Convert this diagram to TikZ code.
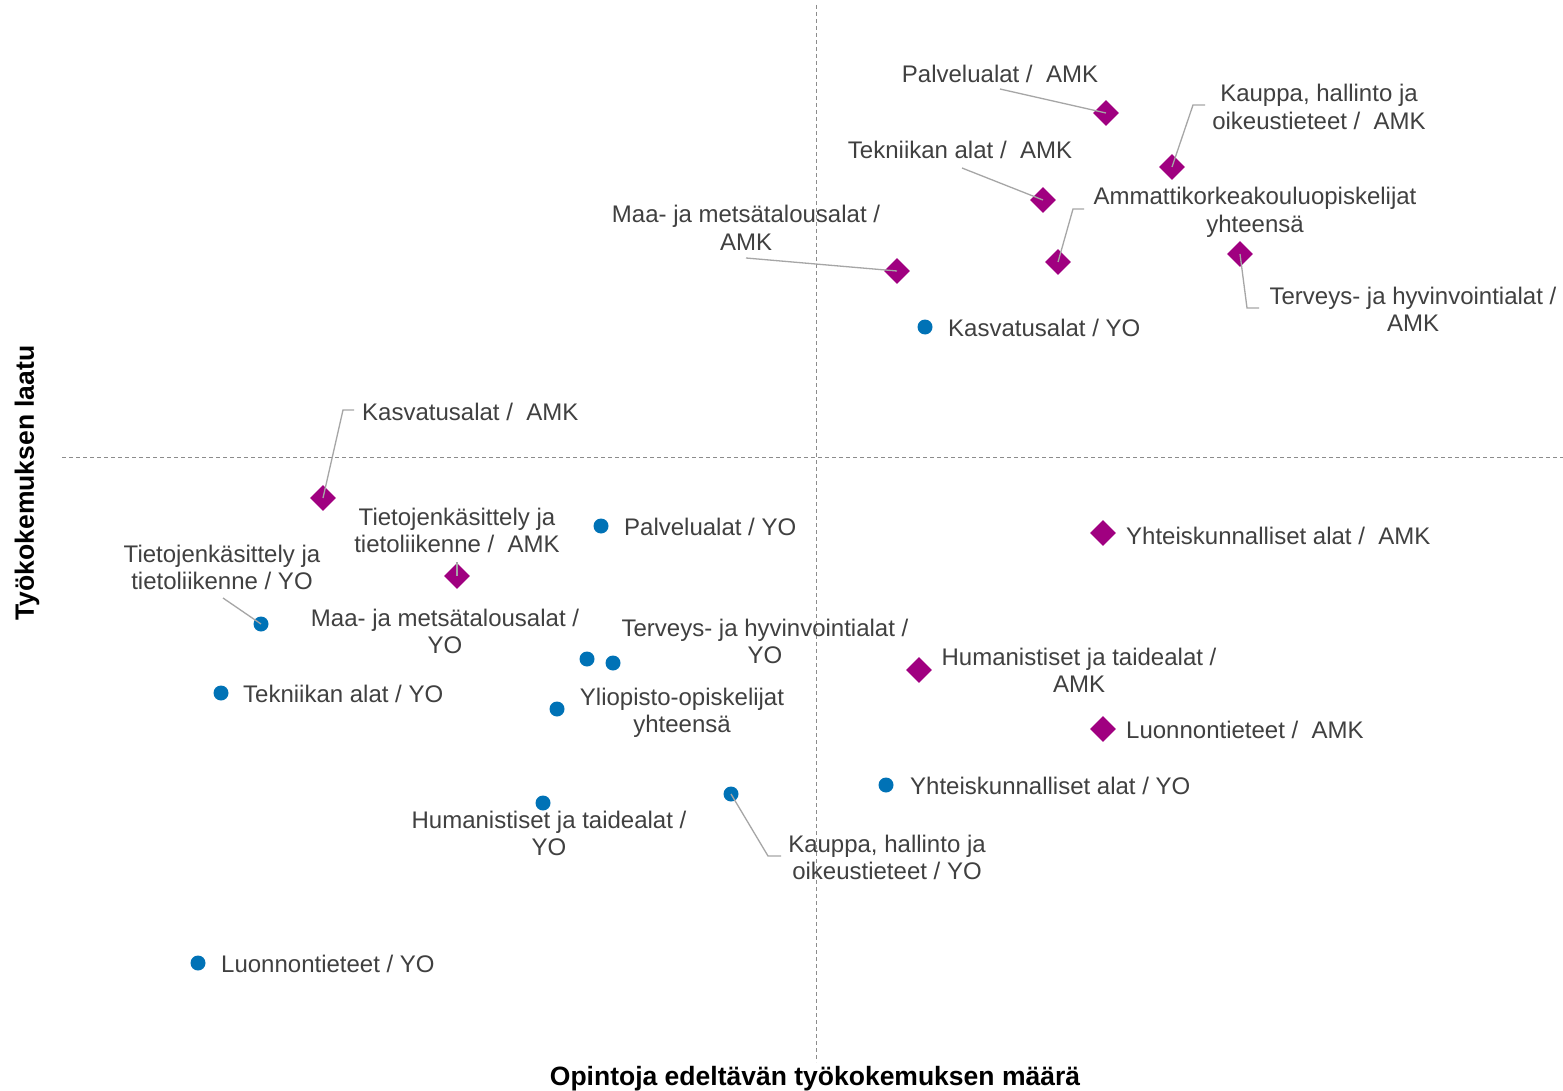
\documentclass[tikz,border=0pt]{standalone}
\usepackage{fontspec}
\setmainfont{Liberation Sans}
\usetikzlibrary{shapes.geometric}
\definecolor{amk}{RGB}{160,0,128}
\definecolor{yo}{RGB}{0,114,182}
\definecolor{txt}{RGB}{64,64,64}
\definecolor{leadc}{RGB}{166,166,166}
\definecolor{gridc}{RGB}{140,140,140}
\begin{document}
\begin{tikzpicture}[x=1pt,y=-1pt,
 amkm/.style={diamond,fill=amk,inner sep=0pt,minimum size=26pt},
 yom/.style={circle,fill=yo,inner sep=0pt,minimum size=15pt},
 lbl/.style={text=txt,inner sep=0pt,font=\fontsize{24}{27.5}\selectfont,align=center},
 lblw/.style={lbl,anchor=base west},
 lblc/.style={lbl,anchor=base},
 leader/.style={draw=leadc,line width=1.3pt},
 gridline/.style={draw=gridc,line width=1pt,dash pattern=on 4pt off 3pt},
 axistitle/.style={text=black,font=\fontsize{26.5}{30}\selectfont\bfseries,inner sep=0pt}]
\useasboundingbox[fill=white] (0,0) rectangle (1563,1091);

% quadrant lines
\coordinate (vtop) at (816,5);
\coordinate (vbot) at (816,1062);
\coordinate (hl) at (62,457);
\coordinate (hr) at (1563,457);
\draw[gridline] (vtop) -- (vbot);
\draw[gridline] (hl) -- (hr);

% AMK markers
\node[amkm] (pa) at (1106,113) {};
\node[amkm] (ka) at (1172,167) {};
\node[amkm] (te) at (1043,200) {};
\node[amkm] (am) at (1058,262) {};
\node[amkm] (ma) at (897,271) {};
\node[amkm] (tv) at (1240,254) {};
\node[amkm] (kv) at (323,498) {};
\node[amkm] (ti) at (457,576) {};
\node[amkm] (yh) at (1103,533) {};
\node[amkm] (hu) at (919,670) {};
\node[amkm] (lu) at (1103,729) {};

% YO markers
\node[yom] (kvy) at (925,327) {};
\node[yom] (pay) at (601,526) {};
\node[yom] (tiy) at (261,624) {};
\node[yom] (may) at (587,659) {};
\node[yom] (tvy) at (613,663) {};
\node[yom] (tey) at (221,693) {};
\node[yom] (yly) at (557,709) {};
\node[yom] (huy) at (543,803) {};
\node[yom] (kay) at (731,794) {};
\node[yom] (yhy) at (886,785) {};
\node[yom] (luy) at (198,963) {};

% labels (single line: baseline; two lines: baseline of the last line)
\node[lblc] (lpa) at (1000,83) {Palvelualat /\ \ AMK};
\node[lblc] (lka) at (1319,129.5) {Kauppa, hallinto ja\\oikeustieteet /\ \ AMK};
\node[lblc] (lte) at (960,159) {Tekniikan alat /\ \ AMK};
\node[lblc] (lma) at (746,250.5) {Maa- ja metsätalousalat /\\AMK};
\node[lblc] (lam) at (1255,232.5) {Ammattikorkeakouluopiskelijat\\yhteensä};
\node[lblc] (ltv) at (1413,331.5) {Terveys- ja hyvinvointialat /\\AMK};
\node[lblw] (lkvy) at (948,336) {Kasvatusalat / YO};
\node[lblw] (lkv) at (362,420) {Kasvatusalat /\ \ AMK};
\node[lblc] (lti) at (457,552.5) {Tietojenkäsittely ja\\tietoliikenne /\ \ AMK};
\node[lblw] (lpay) at (624,535) {Palvelualat / YO};
\node[lblc] (ltiy) at (222,589.5) {Tietojenkäsittely ja\\tietoliikenne / YO};
\node[lblw] (lyh) at (1126,544) {Yhteiskunnalliset alat /\ \ AMK};
\node[lblc] (lmay) at (445,653.5) {Maa- ja metsätalousalat /\\YO};
\node[lblc] (ltvy) at (765,663.5) {Terveys- ja hyvinvointialat /\\YO};
\node[lblc] (lhu) at (1079,692.5) {Humanistiset ja taidealat /\\AMK};
\node[lblw] (ltey) at (243,702) {Tekniikan alat / YO};
\node[lblc] (lyly) at (682,732.5) {Yliopisto-opiskelijat\\yhteensä};
\node[lblw] (llu) at (1126,738) {Luonnontieteet /\ \ AMK};
\node[lblw] (lyhy) at (910,794) {Yhteiskunnalliset alat / YO};
\node[lblc] (lhuy) at (549,855.5) {Humanistiset ja taidealat /\\YO};
\node[lblc] (lkay) at (887,879.5) {Kauppa, hallinto ja\\oikeustieteet / YO};
\node[lblw] (lluy) at (221,972) {Luonnontieteet / YO};

% leader lines
\coordinate (c1) at (1000,89);
\draw[leader] (c1) -- (pa.center);
\coordinate (c2a) at (1205,105); \coordinate (c2b) at (1193,105);
\draw[leader] (c2a) -- (c2b) -- (ka.center);
\coordinate (c3) at (962,168);
\draw[leader] (c3) -- (te.center);
\coordinate (c4a) at (1084,209); \coordinate (c4b) at (1073,209);
\draw[leader] (c4a) -- (c4b) -- (am.center);
\coordinate (c5) at (746,258);
\draw[leader] (c5) -- (ma.center);
\coordinate (c6a) at (1247,308); \coordinate (c6b) at (1259,308);
\draw[leader] (tv.center) -- (c6a) -- (c6b);
\coordinate (c7a) at (354,410); \coordinate (c7b) at (343,410);
\draw[leader] (c7a) -- (c7b) -- (kv.center);
\coordinate (c8) at (457,562);
\draw[leader] (c8) -- (ti.center);
\coordinate (c9) at (223,598);
\draw[leader] (c9) -- (tiy.center);
\coordinate (c10a) at (768,856); \coordinate (c10b) at (781,856);
\draw[leader] (kay.center) -- (c10a) -- (c10b);

% axis titles
\node[axistitle] (xt) at (815,1079) {Opintoja edeltävän työkokemuksen määrä};
\node[axistitle,rotate=90] (yt) at (27,483) {Työkokemuksen laatu};
\end{tikzpicture}
\end{document}
